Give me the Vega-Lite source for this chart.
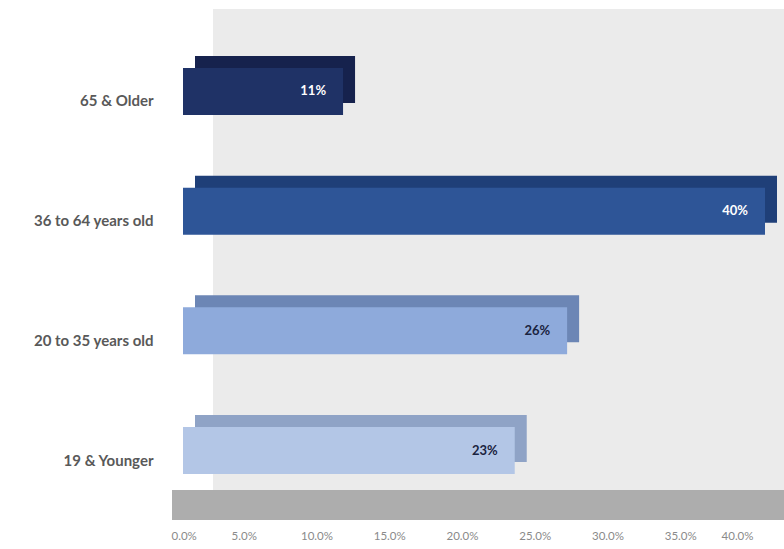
{
  "$schema": "https://vega.github.io/schema/vega-lite/v6.json",
  "width": 582,
  "height": 498,
  "autosize": "none",
  "padding": {"left": 183, "top": 22, "right": 19, "bottom": 29},
  "background": "white",
  "config": {
    "view": {"stroke": null},
    "font": "Lato"
  },
  "data": {
    "values": [
      {"group": "65 & Older", "pct": 0.11, "label": "11%"},
      {"group": "36 to 64 years old", "pct": 0.40, "label": "40%"},
      {"group": "20 to 35 years old", "pct": 0.264, "label": "26%"},
      {"group": "19 & Younger", "pct": 0.228, "label": "23%"}
    ]
  },
  "encoding": {
    "y": {
      "field": "group",
      "type": "nominal",
      "sort": ["65 & Older", "36 to 64 years old", "20 to 35 years old", "19 & Younger"],
      "scale": {"paddingInner": 0.607, "paddingOuter": 0.384},
      "axis": {
        "title": null,
        "domain": false,
        "ticks": false,
        "labelPadding": 30,
        "labelOffset": 10,
        "labelFontSize": 15,
        "labelFontWeight": "bold",
        "labelColor": "#595959",
        "labelFont": "Lato"
      }
    }
  },
  "layer": [
    {
      "mark": {"type": "rect", "color": "#ebebeb", "xOffset": 30, "x2Offset": 19, "yOffset": -13, "y2Offset": -30},
      "encoding": {
        "y": null,
        "x": {"datum": 0, "type": "quantitative", "scale": {"domain": [0, 0.4], "nice": false}, "axis": {
          "title": null, "domain": false, "ticks": false, "grid": false, "format": ".1%",
          "values": [0, 0.05, 0.1, 0.15, 0.2, 0.25, 0.3, 0.35, 0.4],
          "labelOverlap": false, "labelBound": false,
          "labelOffset": -12, "labelPadding": 10, "labelFontSize": 11.5, "labelColor": "#8a8a8a", "labelFont": "Lato"
        }},
        "x2": {"datum": 0.4}
      }
    },
    {
      "mark": {"type": "rect", "color": "#adadad", "xOffset": -11, "x2Offset": 19, "yOffset": 468, "y2Offset": 0},
      "encoding": {
        "y": null,
        "x": {"datum": 0, "type": "quantitative"},
        "x2": {"datum": 0.4}
      }
    },
    {
      "mark": {"type": "bar", "xOffset": 12, "x2Offset": 12, "yOffset": -12, "y2Offset": -12},
      "encoding": {
        "x": {"field": "pct", "type": "quantitative"},
        "color": {
          "field": "group",
          "type": "nominal",
          "scale": {
            "domain": ["65 & Older", "36 to 64 years old", "20 to 35 years old", "19 & Younger"],
            "range": ["#16224d", "#1f3f78", "#6c86b5", "#8fa3c6"]
          },
          "legend": null
        }
      }
    },
    {
      "mark": {"type": "bar"},
      "encoding": {
        "x": {"field": "pct", "type": "quantitative"},
        "color": {
          "field": "group",
          "type": "nominal",
          "scale": {
            "domain": ["65 & Older", "36 to 64 years old", "20 to 35 years old", "19 & Younger"],
            "range": ["#1f3266", "#2e5597", "#8eaadb", "#b3c6e6"]
          },
          "legend": null
        }
      }
    },
    {
      "mark": {"type": "text", "align": "right", "baseline": "middle", "dx": -17, "fontWeight": "bold", "fontSize": 13, "font": "Lato"},
      "encoding": {
        "x": {"field": "pct", "type": "quantitative"},
        "text": {"field": "label"},
        "color": {
          "condition": {"test": "datum.pct < 0.12 || datum.pct > 0.3", "value": "#ffffff"},
          "value": "#1a2340"
        }
      }
    }
  ],
  "resolve": {"scale": {"color": "independent"}}
}
